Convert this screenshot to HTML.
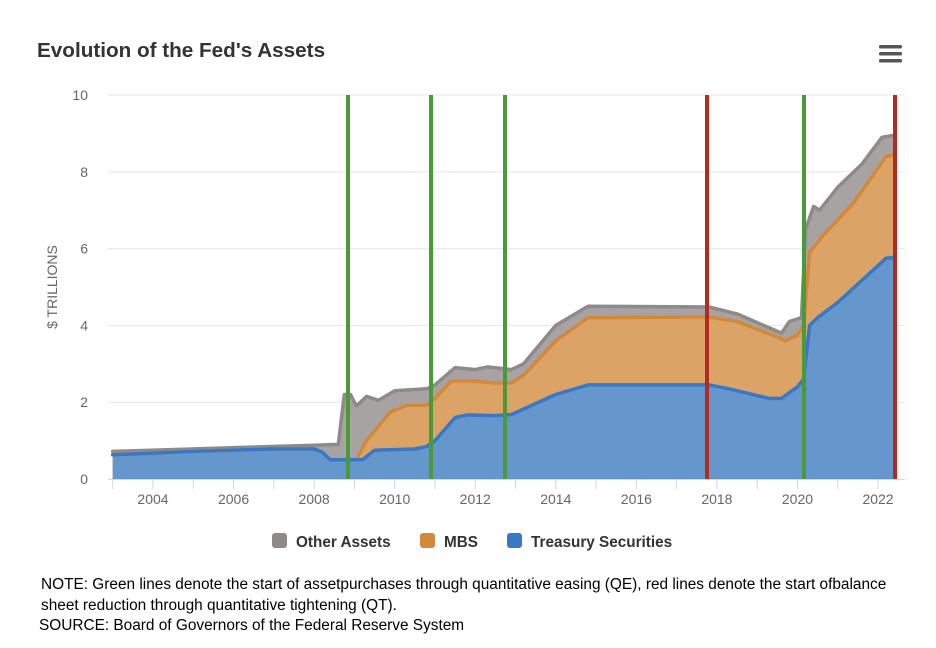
<!DOCTYPE html>
<html><head><meta charset="utf-8"><style>
body{margin:0;background:#fff;font-family:"Liberation Sans",sans-serif;}
#w{position:relative;width:936px;height:648px;overflow:hidden;}
.t{position:absolute;color:#000;font-size:15.4px;white-space:nowrap;}
</style></head><body><div id="w">
<svg id="s" width="936" height="648" style="position:absolute;left:0;top:0" font-family="Liberation Sans, sans-serif">
<text x="37" y="57" font-size="20.7" font-weight="bold" fill="#333">Evolution of the Fed's Assets</text>
<g fill="#555"><rect x="879" y="45" width="23" height="3.5" rx="1.5"/><rect x="879" y="52" width="23" height="3.5" rx="1.5"/><rect x="879" y="59" width="23" height="3.5" rx="1.5"/></g>
<g id="grid" stroke="#e6e6e6" stroke-width="1"></g>
<g id="ylab" font-size="14" fill="#666" text-anchor="end"></g>
<text transform="translate(57,287) rotate(-90)" font-size="14" fill="#666" text-anchor="middle">$ TRILLIONS</text>
<g id="areas"></g>
<line x1="108" y1="479.5" x2="905" y2="479.5" stroke="#ccd6eb"/>
<g id="xt" stroke="#ccd6eb"></g>
<g id="xlab" font-size="14" fill="#666" text-anchor="middle"></g>
<g id="vl" stroke-width="4"></g>
<g font-size="15.3" font-weight="bold" fill="#333">
<rect x="272" y="533" width="15" height="15" rx="3" fill="#8f8a8a"/><text x="296" y="547">Other Assets</text>
<rect x="420" y="533" width="15" height="15" rx="3" fill="#d4883a"/><text x="444" y="547">MBS</text>
<rect x="507" y="533" width="15" height="15" rx="3" fill="#3a78c4"/><text x="531" y="547">Treasury Securities</text>
</g>
</svg>
<div class="t" style="left:41px;top:574px;line-height:21px;">NOTE: Green lines denote the start of assetpurchases through quantitative easing (QE), red lines denote the start ofbalance<br>sheet reduction through quantitative tightening (QT).</div>
<div class="t" style="left:39px;top:617px">SOURCE: Board of Governors of the Federal Reserve System</div>
</div>
<script>
var NS="http://www.w3.org/2000/svg";
function X(y){return 153+(y-2004)*40.28;}
function Y(v){return 479-v*38.4;}
function el(p,t,a){var e=document.createElementNS(NS,t);for(var k in a)e.setAttribute(k,a[k]);document.getElementById(p).appendChild(e);return e;}
for(var i=1;i<=5;i++){el("grid","line",{x1:108,x2:905,y1:Y(i*2),y2:Y(i*2)});}
for(var i=0;i<=5;i++){var t=el("ylab","text",{x:88,y:Y(i*2)+5});t.textContent=i*2;}
for(var y=2003;y<=2023;y++){var x=X(y);if(x<905)el("xt","line",{x1:x,x2:x,y1:479,y2:489});}
for(var y=2004;y<=2022;y+=2){var t=el("xlab","text",{x:X(y),y:504});t.textContent=y;}
var T=[[2003,.63],[2005,.72],[2007,.78],[2008,.78],[2008.2,.7],[2008.4,.5],[2009.2,.5],[2009.5,.75],[2010.5,.78],[2010.8,.85],[2011,1],[2011.5,1.6],[2011.8,1.67],[2012.5,1.65],[2012.9,1.68],[2014,2.2],[2014.8,2.45],[2017.8,2.45],[2018.3,2.35],[2019.3,2.1],[2019.6,2.1],[2020,2.4],[2020.15,2.6],[2020.3,4],[2020.5,4.2],[2021,4.6],[2022.2,5.75],[2022.4,5.77]];
var M=[[2003,.63],[2005,.72],[2007,.78],[2008,.78],[2008.2,.7],[2008.4,.5],[2009.05,.5],[2009.3,1],[2009.9,1.75],[2010.3,1.92],[2010.8,1.92],[2011,2.1],[2011.4,2.55],[2012,2.55],[2012.5,2.5],[2012.9,2.5],[2013.2,2.7],[2014,3.6],[2014.8,4.2],[2017.8,4.22],[2018.5,4.1],[2019.5,3.7],[2019.7,3.6],[2020,3.75],[2020.15,4],[2020.3,5.9],[2020.6,6.3],[2021.4,7.2],[2022.2,8.4],[2022.4,8.45]];
var O=[[2003,.72],[2008,.88],[2008.6,.9],[2008.75,2.2],[2008.9,2.2],[2009.05,1.9],[2009.3,2.15],[2009.6,2.05],[2010,2.3],[2010.8,2.35],[2011,2.45],[2011.5,2.9],[2012,2.85],[2012.3,2.92],[2012.9,2.85],[2013.2,3],[2014,4],[2014.8,4.5],[2017.8,4.48],[2018.5,4.3],[2019.6,3.8],[2019.8,4.1],[2020.1,4.2],[2020.2,6.5],[2020.4,7.1],[2020.55,7],[2021,7.6],[2021.6,8.2],[2022.1,8.9],[2022.4,8.95]];
function ln(d){return d.map(function(p,i){return (i?"L":"M")+X(p[0]).toFixed(1)+","+Y(p[1]).toFixed(1);}).join("");}
function ar(d){return ln(d)+"L"+X(2022.4)+","+Y(0)+"L"+X(2003)+","+Y(0)+"Z";}
[[O,"#a8a3a3"],[M,"#dba466"],[T,"#6596cc"]].forEach(function(s){
el("areas","path",{d:ar(s[0]),fill:s[1]});});
[[O,"#8f8a8a"],[M,"#d4883a"],[T,"#3a78c4"]].forEach(function(s){
el("areas","path",{d:ln(s[0]),fill:"none",stroke:s[1],"stroke-width":3.5,"stroke-linejoin":"round","stroke-linecap":"round"});});
[[348,"#4a9a3a"],[431,"#4a9a3a"],[505,"#4a9a3a"],[707,"#b22a22"],[804,"#4a9a3a"],[895,"#b22a22"]].forEach(function(v){
el("vl","line",{x1:v[0],x2:v[0],y1:95,y2:479,stroke:v[1]});});
</script>
</body></html>
